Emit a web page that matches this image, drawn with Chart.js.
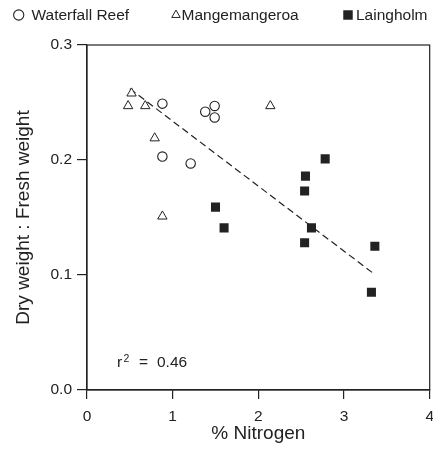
<!DOCTYPE html>
<html>
<head>
<meta charset="utf-8">
<script src="https://cdn.jsdelivr.net/npm/chart.js@4.4.1/dist/chart.umd.min.js"></script>
<style>
  html, body { margin: 0; padding: 0; background: #fff; overflow: hidden; }
  #wrap { position: relative; width: 442px; height: 449px; }
</style>
</head>
<body>
<div id="wrap"><canvas id="chart"></canvas></div>
<script>
// values
const waterfallN = [0.88, 0.88, 1.21, 1.38, 1.49, 1.49];
const waterfallDW = [0.249, 0.203, 0.197, 0.242, 0.247, 0.237];

const mangeN = [0.52, 0.48, 0.68, 0.79, 0.88, 2.14];
const mangeDW = [0.258, 0.247, 0.247, 0.219, 0.151, 0.247];

const laingN = [1.50, 1.60, 2.78, 2.55, 2.54, 2.62, 2.54, 3.36, 3.32];
const laingDW = [0.159, 0.141, 0.201, 0.186, 0.173, 0.141, 0.128, 0.125, 0.085];

const fitN = [0.50, 3.35];
const fitDW = [0.262, 0.101];

const xTicks = [0, 1, 2, 3, 4];
const yTicks = [0.0, 0.1, 0.2, 0.3];
const rSquared = '0.46';

const ink = '#222';
const fontFam = '"Liberation Sans", Arial, Helvetica, sans-serif';

function toPoints(xs, ys){
    return xs.map((x, i) => ({x: x, y: ys[i]}));
}

const frameAndNotes = {
    id: 'frameAndNotes',
    afterDraw(chart){
        const ctx = chart.ctx;
        const a = chart.chartArea;
        ctx.save();
        // box around plot
        ctx.strokeStyle = ink;
        ctx.lineWidth = 1.2;
        ctx.strokeRect(a.left, a.top, a.right - a.left, a.bottom - a.top);

        // r^2 label
        const xs = chart.scales.x, ys = chart.scales.y;
        const px = xs.getPixelForValue(0.35);
        const py = ys.getPixelForValue(0.02);
        ctx.fillStyle = ink;
        ctx.textBaseline = 'alphabetic';
        ctx.textAlign = 'left';
        ctx.font = '15.5px ' + fontFam;
        ctx.fillText('r', px, py);
        ctx.fillText('=', px + 22, py);
        ctx.fillText(rSquared, px + 40, py);
        ctx.font = '10.5px ' + fontFam;
        ctx.fillText('2', px + 6.5, py - 5);

        // legend
        const items = [
            {ds: 0, mx: 18.7, tx: 31.5, r: 5.1},
            {ds: 1, mx: 176, tx: 181.5, r: 4.9},
            {ds: 2, mx: 348, tx: 356, r: 6.7}
        ];
        const ly = 15;
        items.forEach(it => {
            const d = chart.data.datasets[it.ds];
            ctx.fillStyle = d.pointBackgroundColor;
            ctx.strokeStyle = d.pointBorderColor;
            ctx.lineWidth = d.pointBorderWidth || 1;
            Chart.helpers.drawPoint(ctx, {pointStyle: d.pointStyle, radius: it.r, borderWidth: d.pointBorderWidth}, it.mx, ly);
            ctx.fillStyle = ink;
            ctx.font = '15.5px ' + fontFam;
            ctx.textBaseline = 'middle';
            ctx.fillText(d.label, it.tx, ly + 1);
        });
        ctx.restore();
    }
};

new Chart(document.getElementById('chart'), {
    type: 'scatter',
    data: {
        datasets: [{
            label: 'Waterfall Reef',
            data: toPoints(waterfallN, waterfallDW),
            pointStyle: 'circle',
            pointRadius: 4.7,
            pointBackgroundColor: '#fff',
            pointBorderColor: ink,
            pointBorderWidth: 1.1
        }, {
            label: 'Mangemangeroa',
            data: toPoints(mangeN, mangeDW),
            pointStyle: 'triangle',
            pointRadius: 5.4,
            pointBackgroundColor: '#fff',
            pointBorderColor: ink,
            pointBorderWidth: 1
        }, {
            label: 'Laingholm',
            data: toPoints(laingN, laingDW),
            pointStyle: 'rect',
            pointRadius: 6.4,
            pointBackgroundColor: ink,
            pointBorderColor: ink,
            pointBorderWidth: 0
        }, {
            type: 'line',
            label: 'fit',
            data: toPoints(fitN, fitDW),
            borderColor: ink,
            borderWidth: 1.2,
            borderDash: [7, 4],
            pointRadius: 0,
            fill: false
        }]
    },
    options: {
        responsive: true,
        maintainAspectRatio: false,
        animation: false,
        layout: {
            padding: {top: 45, right: 10, bottom: 0, left: 0}
        },
        plugins: {
            legend: {display: false},
            tooltip: {enabled: false}
        },
        scales: {
            x: {
                type: 'linear',
                min: xTicks[0],
                max: xTicks[xTicks.length - 1],
                afterBuildTicks: (s) => { s.ticks = xTicks.map(v => ({value: v})); },
                afterFit: (s) => { s.height = 59; },
                grid: {
                    drawOnChartArea: false,
                    drawTicks: true,
                    tickLength: 9,
                    color: ink,
                    lineWidth: 1.2
                },
                border: {display: true, color: ink, width: 1.2},
                ticks: {
                    color: ink,
                    padding: 8,
                    font: {family: fontFam, size: 15.5},
                    callback: (v) => String(v)
                },
                title: {
                    display: true,
                    text: '% Nitrogen',
                    color: ink,
                    font: {family: fontFam, size: 19},
                    padding: {top: 0, bottom: 4}
                }
            },
            y: {
                type: 'linear',
                min: yTicks[0],
                max: yTicks[yTicks.length - 1],
                afterBuildTicks: (s) => { s.ticks = yTicks.map(v => ({value: v})); },
                afterFit: (s) => { s.width = 87; },
                grid: {
                    drawOnChartArea: false,
                    drawTicks: true,
                    tickLength: 10,
                    color: ink,
                    lineWidth: 1.2
                },
                border: {display: true, color: ink, width: 1.2},
                ticks: {
                    color: ink,
                    padding: 5,
                    font: {family: fontFam, size: 15.5},
                    callback: (v) => Number(v).toFixed(1)
                },
                title: {
                    display: true,
                    text: 'Dry weight : Fresh weight',
                    color: ink,
                    font: {family: fontFam, size: 19},
                    padding: {top: 12, bottom: 0}
                }
            }
        }
    },
    plugins: [frameAndNotes]
});
</script>
</body>
</html>
